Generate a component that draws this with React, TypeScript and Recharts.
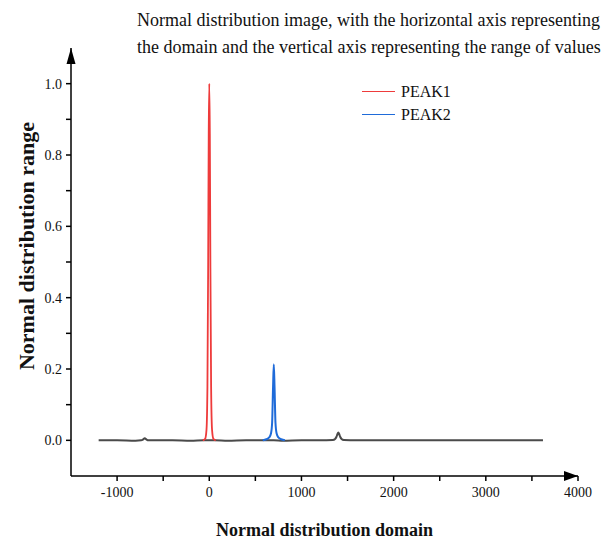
import type { JSX } from 'react';
import { Label, Line, LineChart, ReferenceDot, XAxis, YAxis } from 'recharts';

const baseX = [
  -1200, -1000, -800, -740, -720, -700, -680, -660, -600, -400, -200, -60, 0, 60, 200, 400, 600, 700, 800,
  1000, 1200, 1340, 1365, 1380, 1390, 1400, 1410, 1420, 1435, 1460, 1600, 2000, 2400, 2800, 3200, 3620,
];
const baseY = [
  0, 0, -0.001, 0, 0.002, 0.006, 0.002, 0, 0, 0, -0.001, 0, 0, 0, -0.001, 0, 0, 0, -0.001,
  0, 0, 0.001, 0.004, 0.01, 0.017, 0.022, 0.017, 0.01, 0.004, 0.001, 0, 0, 0, 0, 0, 0,
];

const peak1X = [-70, -45, -30, -20, -12, -6, 0, 6, 12, 20, 30, 45, 70];
const peak1Y = [0, 0.004, 0.03, 0.15, 0.5, 0.86, 1.0, 0.86, 0.5, 0.15, 0.03, 0.004, 0];

const peak2X = [580, 620, 650, 670, 682, 692, 700, 708, 718, 730, 750, 780, 820];
const peak2Y = [0, 0.003, 0.008, 0.02, 0.05, 0.15, 0.213, 0.15, 0.05, 0.02, 0.008, 0.003, 0];

const seriesNames = ['PEAK1', 'PEAK2'];
const seriesColors = ['#ee3b3b', '#1f6bd9'];

const xTicks = [-1000, -500, 0, 500, 1000, 1500, 2000, 2500, 3000, 3500, 4000];
const xLabeled = [-1000, 0, 1000, 2000, 3000, 4000];
const yTicks = [0, 0.1, 0.2, 0.3, 0.4, 0.5, 0.6, 0.7, 0.8, 0.9, 1.0];
const yLabeled = [0, 0.2, 0.4, 0.6, 0.8, 1.0];

const toPoints = (xs: number[], ys: number[]) => xs.map((x, i) => ({ x, y: ys[i] }));

const baseData = toPoints(baseX, baseY);
const peak1Data = toPoints(peak1X, peak1Y);
const peak2Data = toPoints(peak2X, peak2Y);

const FONT = '"Liberation Serif", "Times New Roman", serif';

const UpArrow = ({ cx, cy }: { cx?: number; cy?: number }) =>
  cx == null || cy == null ? null : <path d={`M${cx},${cy} L${cx - 4.5},${cy + 16} L${cx + 4.5},${cy + 16} Z`} fill="#000" />;

const RightArrow = ({ cx, cy }: { cx?: number; cy?: number }) =>
  cx == null || cy == null ? null : <path d={`M${cx},${cy} L${cx - 14},${cy - 5} L${cx - 14},${cy + 5} Z`} fill="#000" />;

export default function App(): JSX.Element {
  return (
    <div style={{ position: 'absolute', left: 0, top: 0, width: 602, height: 541, background: '#fff' }}>
      <div
        style={{
          position: 'absolute',
          left: 137,
          top: 7,
          fontFamily: FONT,
          fontSize: 18,
          lineHeight: '27px',
          color: '#111',
          whiteSpace: 'nowrap',
        }}
      >
        Normal distribution image, with the horizontal axis representing
        <br />
        the domain and the vertical axis representing the range of values
      </div>
      <div
        style={{
          position: 'absolute',
          left: 362,
          top: 80,
          fontFamily: FONT,
          fontSize: 16,
          lineHeight: '23px',
          color: '#111',
          zIndex: 1,
        }}
      >
        {seriesNames.map((name, i) => (
          <div key={name} style={{ display: 'flex', alignItems: 'center' }}>
            <span
              style={{ display: 'inline-block', width: 33, height: 1.5, background: seriesColors[i], marginRight: 6 }}
            />
            {name}
          </div>
        ))}
      </div>
      <LineChart width={602} height={541} margin={{ top: 48, right: 24, bottom: 35, left: 31 }}>
        <XAxis
          type="number"
          dataKey="x"
          domain={[-1500, 4000]}
          ticks={xTicks}
          allowDataOverflow
          tickFormatter={(v: number) => (xLabeled.includes(v) ? String(v) : '')}
          tick={{ fill: '#111', fontFamily: FONT, fontSize: 14 }}
          tickSize={5}
          tickMargin={6}
          height={30}
          stroke="#000"
          strokeWidth={1.5}
        >
          <Label
            value="Normal distribution domain"
            position="bottom"
            offset={17}
            style={{ fontFamily: FONT, fontSize: 18, fontWeight: 'bold', fill: '#111' }}
          />
        </XAxis>
        <YAxis
          type="number"
          dataKey="y"
          domain={[-0.1, 1.1]}
          ticks={yTicks}
          allowDataOverflow
          tickFormatter={(v: number) => (yLabeled.includes(v) ? v.toFixed(1) : '')}
          tick={{ fill: '#111', fontFamily: FONT, fontSize: 14 }}
          tickSize={5}
          tickMargin={4}
          width={40}
          stroke="#000"
          strokeWidth={1.5}
        >
          <Label
            value="Normal distribution range"
            angle={-90}
            position="insideLeft"
            offset={-5}
            dy={-16}
            style={{ fontFamily: FONT, fontSize: 22, fontWeight: 'bold', fill: '#111', textAnchor: 'middle' }}
          />
        </YAxis>
        <Line
          data={baseData}
          dataKey="y"
          name="base"
          legendType="none"
          stroke="#4a4a4a"
          strokeWidth={2}
          dot={false}
          type="monotone"
          isAnimationActive={false}
        />
        <Line
          data={peak1Data}
          dataKey="y"
          name={seriesNames[0]}
          stroke={seriesColors[0]}
          strokeWidth={1.8}
          dot={false}
          type="monotone"
          isAnimationActive={false}
        />
        <Line
          data={peak2Data}
          dataKey="y"
          name={seriesNames[1]}
          stroke={seriesColors[1]}
          strokeWidth={2}
          dot={false}
          type="monotone"
          isAnimationActive={false}
        />
        <ReferenceDot x={-1500} y={1.1} r={0} ifOverflow="visible" shape={<UpArrow />} />
        <ReferenceDot x={4000} y={-0.1} r={0} ifOverflow="visible" shape={<RightArrow />} />
      </LineChart>
    </div>
  );
}
